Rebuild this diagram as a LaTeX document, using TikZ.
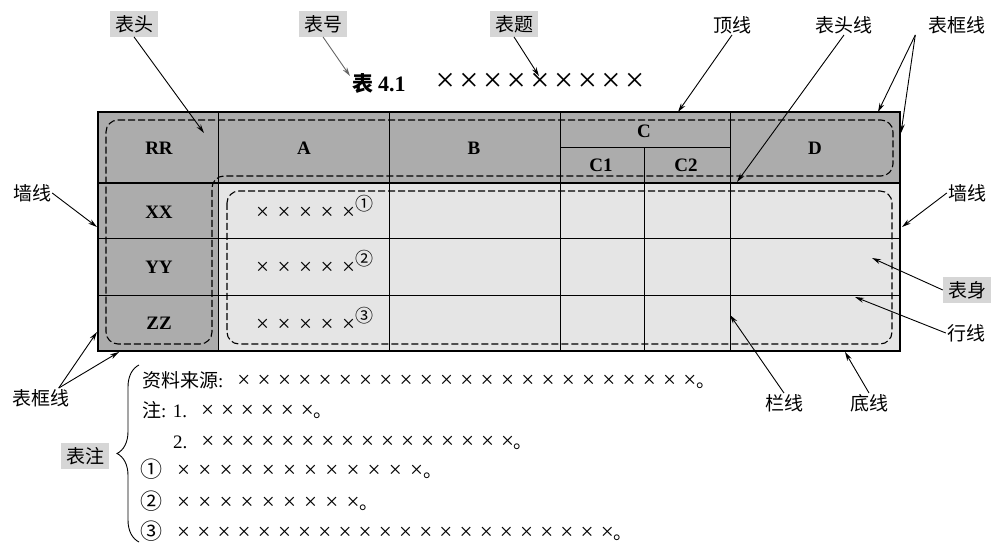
\documentclass[tikz,border=0pt]{standalone}
\usepackage{fontspec}
\setmainfont{Liberation Serif}
\newfontfamily\cjk{Noto Sans CJK SC}
\usetikzlibrary{arrows.meta,decorations.pathreplacing}

\definecolor{headgray}{RGB}{172,172,172}
\definecolor{bodygray}{RGB}{229,229,229}
\definecolor{taggray}{RGB}{214,214,214}

% a row of crosses: count, gap
\newcommand\crs[2]{{\fontsize{23}{23}\selectfont ×\foreach \k in {2,...,#1}{\hspace{#2}×}}}
\newcommand\ringnum[1]{{\cjk\fontsize{22}{22}\selectfont #1}}

\tikzset{
  tag/.style={fill=taggray, inner xsep=5pt, inner ysep=4pt, font=\cjk\fontsize{19}{19}\selectfont},
  lbl/.style={inner sep=1pt, font=\cjk\fontsize{19}{19}\selectfont},
  hd/.style={inner sep=0pt, font=\bfseries\fontsize{19}{19}\selectfont},
  note/.style={anchor=base west, inner sep=0pt, font=\fontsize{19}{19}\selectfont},
  arr/.style={-{Stealth[length=9pt,width=5pt]}, line width=0.9pt},
  dsh/.style={dash pattern=on 7pt off 3pt, line width=1.1pt, rounded corners=12pt}
}

\begin{document}
\begin{tikzpicture}[x=1pt,y=-1pt]
\useasboundingbox (0,0) rectangle (993,545);
% table fills
\fill[bodygray] (98,112) rectangle (900,351);
\fill[headgray] (98,112) rectangle (900,183);
\fill[headgray] (98,183) rectangle (218,351);
% rules
\draw[line width=1.2pt] (98,183) -- (900,183);
\draw[line width=1pt] (98,239) -- (900,239) (98,296) -- (900,296);
\draw[line width=1pt] (560,148) -- (730,148);
\foreach \x in {218,389,560,730} \draw[line width=1pt] (\x,112) -- (\x,351);
\draw[line width=1pt] (644,148) -- (644,351);
\draw[line width=2.2pt] (98,112) rectangle (900,351);
% dashed zones
\draw[dsh] (106,120) -- (893,120) -- (893,176) -- (212,176) -- (212,344) -- (106,344) -- cycle;
\draw[dsh] (227,191) rectangle (892,344);

% header and stub
\node[hd] (rr) at (159,148) {RR};
\node[hd] (ca) at (304,148) {A};
\node[hd] (cb) at (474,148) {B};
\node[hd] (cc) at (644,131) {C};
\node[hd] (cc1) at (601,165) {C1};
\node[hd] (cc2) at (686,165) {C2};
\node[hd] (cd) at (815,148) {D};
\node[hd] (rx) at (159,212) {XX};
\node[hd] (ry) at (159,267) {YY};
\node[hd] (rz) at (159,323) {ZZ};

% body
\node[note] (b1) at (256,220) {\crs{5}{8.5pt}\raisebox{9pt}{\cjk\fontsize{18}{18}\selectfont ①}};
\node[note] (b2) at (256,275) {\crs{5}{8.5pt}\raisebox{9pt}{\cjk\fontsize{18}{18}\selectfont ②}};
\node[note] (b3) at (256,331) {\crs{5}{8.5pt}\raisebox{9pt}{\cjk\fontsize{18}{18}\selectfont ③}};

% title
\node[anchor=base west, inner sep=0pt] (title) at (352,92)
  {{\cjk\bfseries\fontsize{21}{21}\selectfont 表}\hspace{5pt}{\bfseries\fontsize{22}{22}\selectfont 4.1}\hspace{30pt}{\fontsize{34}{34}\selectfont ×\foreach \k in {2,...,9}{\hspace{4.5pt}×}}};

% labels
\node[tag] (biaotou) at (134,24) {表头};
\node[tag] (biaohao) at (323,24) {表号};
\node[tag] (biaoti) at (514,24) {表题};
\node[lbl] (dingxian) at (732,25) {顶线};
\node[lbl] (touxian) at (844,25) {表头线};
\node[lbl] (kuangT) at (957,25) {表框线};
\node[lbl] (qiangL) at (32,193) {墙线};
\node[lbl] (qiangR) at (967,193) {墙线};
\node[tag] (biaoshen) at (967,290) {表身};
\node[lbl] (hangxian) at (966,333) {行线};
\node[lbl] (kuangB) at (41,398) {表框线};
\node[lbl] (lanxian) at (784,403) {栏线};
\node[lbl] (dixian) at (869,403) {底线};
\node[tag] (biaozhu) at (85,456) {表注};

% arrow tips
\coordinate (tTou) at (204,133);
\coordinate (tHao) at (350,76);
\coordinate (tTi) at (539,76);
\coordinate (tDing) at (678,112);
\coordinate (tTouX) at (737,182);
\coordinate (tKuang1) at (878,112);
\coordinate (tKuang2) at (901,133);
\coordinate (tQiangL) at (97,227);
\coordinate (tQiangR) at (902,227);
\coordinate (tShen) at (872,258);
\coordinate (tHang) at (855,297);
\coordinate (tKuang3) at (97,332);
\coordinate (tKuang4) at (119,352);
\coordinate (tLan) at (730,315);
\coordinate (tDi) at (845,352);

\draw[arr] (biaotou.south) -- (tTou);
\draw[arr, black!60] (biaohao.south) -- (tHao);
\draw[arr] (biaoti.south) -- (tTi);
\draw[arr] (dingxian.south) -- (tDing);
\draw[arr] (touxian.south) -- (tTouX);
\draw[arr] ([xshift=-12pt]kuangT.south west) -- (tKuang1);
\draw[arr] ([xshift=-12pt]kuangT.south west) -- (tKuang2);
\draw[arr] (qiangL.east) -- (tQiangL);
\draw[arr] (qiangR.west) -- (tQiangR);
\draw[arr] (biaoshen.west) -- (tShen);
\draw[arr] (hangxian.west) -- (tHang);
\draw[arr] ([xshift=-12pt]kuangB.north east) -- (tKuang3);
\draw[arr] ([xshift=-12pt]kuangB.north east) -- (tKuang4);
\draw[arr] (lanxian.north) -- (tLan);
\draw[arr] (dixian.north) -- (tDi);

% notes
\draw[decorate, decoration={brace, amplitude=22pt}, line width=0.9pt] (139,542) -- (139,365);
\node[note] (n1) at (142,387) {{\cjk 资料来源}:\hspace{14pt}\crs{23}{7.3pt}{\cjk 。}};
\node[note] (n2) at (142,417) {{\cjk 注}: 1.\hspace{14pt}\crs{6}{7pt}{\cjk 。}};
\node[note] (n3) at (173,448) {2.\hspace{14pt}\crs{16}{7pt}{\cjk 。}};
\node[note] (n4) at (140,477) {\ringnum{①}\hspace{15pt}\crs{12}{8.2pt}{\cjk 。}};
\node[note] (n5) at (140,509) {\ringnum{②}\hspace{15pt}\crs{9}{8.2pt}{\cjk 。}};
\node[note] (n6) at (140,539) {\ringnum{③}\hspace{15pt}\crs{22}{7.2pt}{\cjk 。}};
\end{tikzpicture}
\end{document}
